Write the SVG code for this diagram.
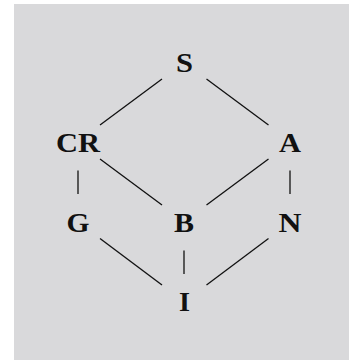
<svg xmlns="http://www.w3.org/2000/svg" width="349" height="360" viewBox="0 0 349 360">
<style>
.lbl{font-family:"Liberation Serif","DejaVu Serif",serif;font-weight:bold;font-size:27px;text-anchor:middle;fill:#111}
.edge{stroke:#111;stroke-width:1.3;fill:none}
</style>
<rect x="14" y="4" width="335" height="356" fill="#d9d9db"/>
<g id="connectors">
<line class="edge" x1="162" y1="79" x2="100" y2="125"/>
<line class="edge" x1="206.5" y1="79" x2="268.5" y2="125"/>
<line class="edge" x1="78" y1="170.5" x2="78" y2="194"/>
<line class="edge" x1="290" y1="170.5" x2="290" y2="194"/>
<line class="edge" x1="100" y1="159" x2="162" y2="205"/>
<line class="edge" x1="268.5" y1="159" x2="206.5" y2="205"/>
<line class="edge" x1="100" y1="238.5" x2="162" y2="285"/>
<line class="edge" x1="268.5" y1="238.5" x2="206.5" y2="285"/>
<line class="edge" x1="184" y1="250.5" x2="184" y2="274"/>
</g>
<g id="S"><text class="lbl" x="184.5" y="72" textLength="17" lengthAdjust="spacingAndGlyphs">S</text></g>
<g id="CR"><text class="lbl" x="78" y="152" textLength="44" lengthAdjust="spacingAndGlyphs">CR</text></g>
<g id="A"><text class="lbl" x="290" y="152" textLength="22" lengthAdjust="spacingAndGlyphs">A</text></g>
<g id="G"><text class="lbl" x="78" y="232" textLength="23" lengthAdjust="spacingAndGlyphs">G</text></g>
<g id="B"><text class="lbl" x="184" y="232" textLength="20" lengthAdjust="spacingAndGlyphs">B</text></g>
<g id="N"><text class="lbl" x="290" y="232" textLength="23" lengthAdjust="spacingAndGlyphs">N</text></g>
<g id="I"><text class="lbl" x="184.5" y="311" textLength="11" lengthAdjust="spacingAndGlyphs">I</text></g>
</svg>
